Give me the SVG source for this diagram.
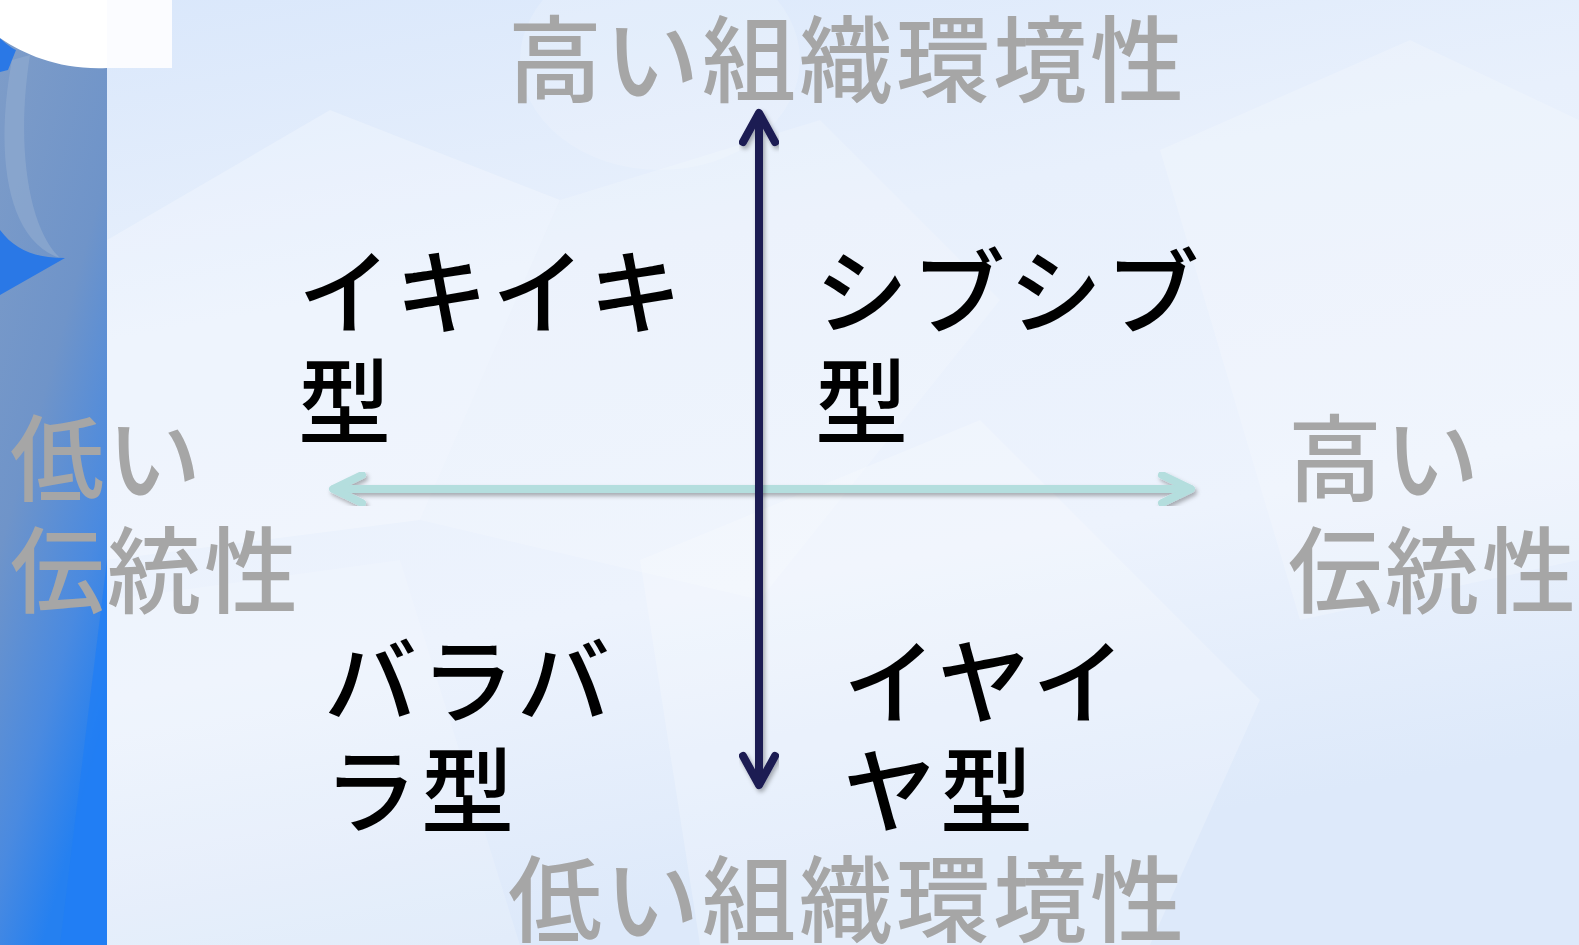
<svg xmlns="http://www.w3.org/2000/svg" width="1579" height="945" viewBox="0 0 1579 945">
<defs>
<linearGradient id="bg" x1="0" y1="0" x2="0.3" y2="1">
<stop offset="0" stop-color="#d9e7fb"/>
<stop offset="0.35" stop-color="#e8f0fc"/>
<stop offset="0.7" stop-color="#edf3fd"/>
<stop offset="1" stop-color="#dde9fa"/>
</linearGradient>
<linearGradient id="band" x1="0" y1="0" x2="0.4" y2="1">
<stop offset="0" stop-color="#7f9dc8"/>
<stop offset="0.5" stop-color="#6f94c9"/>
<stop offset="0.8" stop-color="#4a8ae0"/>
<stop offset="1" stop-color="#2580f0"/>
</linearGradient>
<filter id="sh" x="-10%" y="-10%" width="120%" height="120%">
<feDropShadow dx="2" dy="3" stdDeviation="2" flood-color="#000" flood-opacity="0.3"/>
</filter>
<style>
.gray{font-family:"Noto Sans CJK JP","Noto Sans CJK SC",sans-serif;fill:#a6a6a6;font-size:94px;font-weight:500;letter-spacing:3px}
.blk{font-family:"Noto Sans CJK JP","Noto Sans CJK SC",sans-serif;fill:#000;font-size:93px;font-weight:500;letter-spacing:4px}
.va{fill:none;stroke:#1c1b52;stroke-width:8;stroke-linecap:round;stroke-linejoin:round}
.ha{fill:none;stroke:#b4dede;stroke-width:8;stroke-linecap:round;stroke-linejoin:round}
</style>
</defs>
<g id="background">
<rect x="0" y="0" width="1579" height="945" fill="url(#bg)"/>
<polygon points="107,240 330,110 560,200 420,520 107,560" fill="#ffffff" opacity="0.25"/>
<polygon points="560,200 820,120 1000,300 760,600 420,520" fill="#ffffff" opacity="0.18"/>
<polygon points="1160,150 1410,40 1579,120 1579,560 1300,620" fill="#ffffff" opacity="0.2"/>
<polygon points="640,560 980,420 1260,700 1150,945 700,945" fill="#ffffff" opacity="0.22"/>
<polygon points="107,600 400,560 520,945 107,945" fill="#ffffff" opacity="0.15"/>
<ellipse cx="660" cy="60" rx="140" ry="110" fill="#ffffff" opacity="0.15"/>
<rect x="0" y="0" width="107" height="945" fill="url(#band)"/>
<polygon points="60,945 107,560 107,945" fill="#1f7ef5" opacity="0.7"/>
<path d="M0,38 C6,44 12,48 16,50 L8,70 L0,72 Z" fill="#2a78e6"/>
<path d="M12,60 C-5,150 5,240 60,258 C30,230 15,150 30,55 Z" fill="#8fa9cf" opacity="0.7"/>
<path d="M0,230 C15,250 35,258 65,258 L0,295 Z" fill="#2a78e6"/>
<path d="M0,0 L172,0 L172,68 L107,68 C60,70 25,55 0,38 Z" fill="#ffffff"/>
<rect x="107" y="0" width="65" height="68" fill="#fbfcff"/>
</g>
<g id="connectors">
<g id="h-axis" filter="url(#sh)">
<line class="ha" x1="334" y1="489" x2="1190" y2="489"/>
<polyline class="ha" points="362,475 333,489 362,503"/>
<polyline class="ha" points="1162,475 1191,489 1162,503"/>
</g>
<g id="v-axis" filter="url(#sh)">
<line class="va" x1="759" y1="115" x2="759" y2="783"/>
<polyline class="va" points="743,142 759,113 775,142"/>
<polyline class="va" points="743,756 759,785 775,756"/>
</g>
</g>
<g id="label-top"><text class="gray" x="508" y="95" font-size="95">高い組織環境性</text></g>
<g id="label-bottom"><text class="gray" x="508" y="935" font-size="95">低い組織環境性</text></g>
<g id="label-left"><text class="gray" x="10" y="494">低い</text><text class="gray" x="10" y="606">伝統性</text></g>
<g id="label-right"><text class="gray" x="1288" y="494">高い</text><text class="gray" x="1288" y="606">伝統性</text></g>
<g id="q-ikiiki"><text class="blk" x="298" y="327">イキイキ</text><text class="blk" x="298" y="437">型</text></g>
<g id="q-shibushibu"><text class="blk" x="815" y="327">シブシブ</text><text class="blk" x="815" y="437">型</text></g>
<g id="q-barabara"><text class="blk" x="324" y="716">バラバ</text><text class="blk" x="324" y="826">ラ型</text></g>
<g id="q-iyaiya"><text class="blk" x="843" y="717">イヤイ</text><text class="blk" x="843" y="826">ヤ型</text></g>
</svg>
